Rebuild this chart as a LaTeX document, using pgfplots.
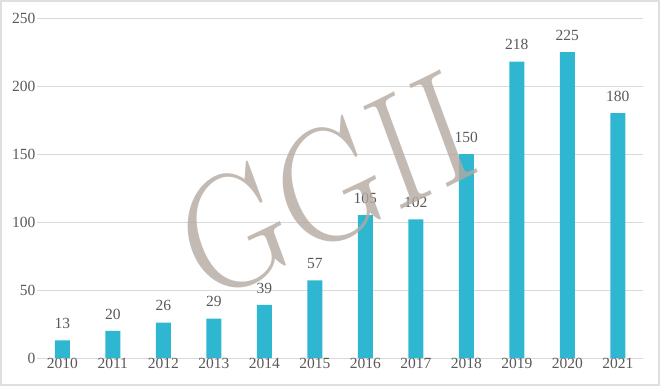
\documentclass[border=0pt]{standalone}
\usepackage{pgfplots}
\pgfplotsset{compat=1.18}
\usepackage{fontspec}
\setmainfont{Liberation Serif}
\newfontfamily\wmfont{Latin Modern Roman}
\definecolor{barc}{RGB}{47,183,210}
\definecolor{txt}{RGB}{89,89,89}
\definecolor{gridc}{RGB}{217,217,217}
\definecolor{wm}{RGB}{180,170,160}
\begin{document}
\begin{tikzpicture}[x=1pt,y=1pt]
\path[use as bounding box] (0,0) rectangle (660,386);
\draw[gray!25, line width=2pt] (1,1) rectangle (659,385);
\begin{axis}[
  at={(37pt,28pt)}, anchor=south west,
  scale only axis, width=606pt, height=340pt,
  xmin=-0.5, xmax=11.5, ymin=0, ymax=250,
  ytick={0,50,...,250},
  xtick={0,...,11},
  xticklabels={2010,2011,2012,2013,2014,2015,2016,2017,2018,2019,2020,2021},
  axis line style={draw=none},
  axis x line*=bottom,
  x axis line style={draw=gridc},
  tick style={draw=none},
  ymajorgrids, grid style={gridc, line width=0.8pt},
  /pgf/number format/assume math mode=true,
  ticklabel style={font=\fontsize{15.5}{18}\selectfont, text=txt},
  yticklabel style={xshift=2pt},
  xticklabel style={yshift=3pt},
  nodes near coords,
  every node near coord/.append style={font=\fontsize{15.5}{18}\selectfont, text=txt, yshift=8pt},
  clip=false,
]
\addplot[ybar, bar width=15pt, fill=barc, draw=none] coordinates {
(0,13) (1,20) (2,26) (3,29) (4,39) (5,57) (6,105) (7,102) (8,150) (9,218) (10,225) (11,180)};
\end{axis}
\node[xscale=1.06, yscale=1.22, rotate=23, text=wm, text opacity=0.8, font=\wmfont\fontsize{134}{134}\selectfont, inner sep=0pt] at (326,200) {GGII};
\end{tikzpicture}
\end{document}
